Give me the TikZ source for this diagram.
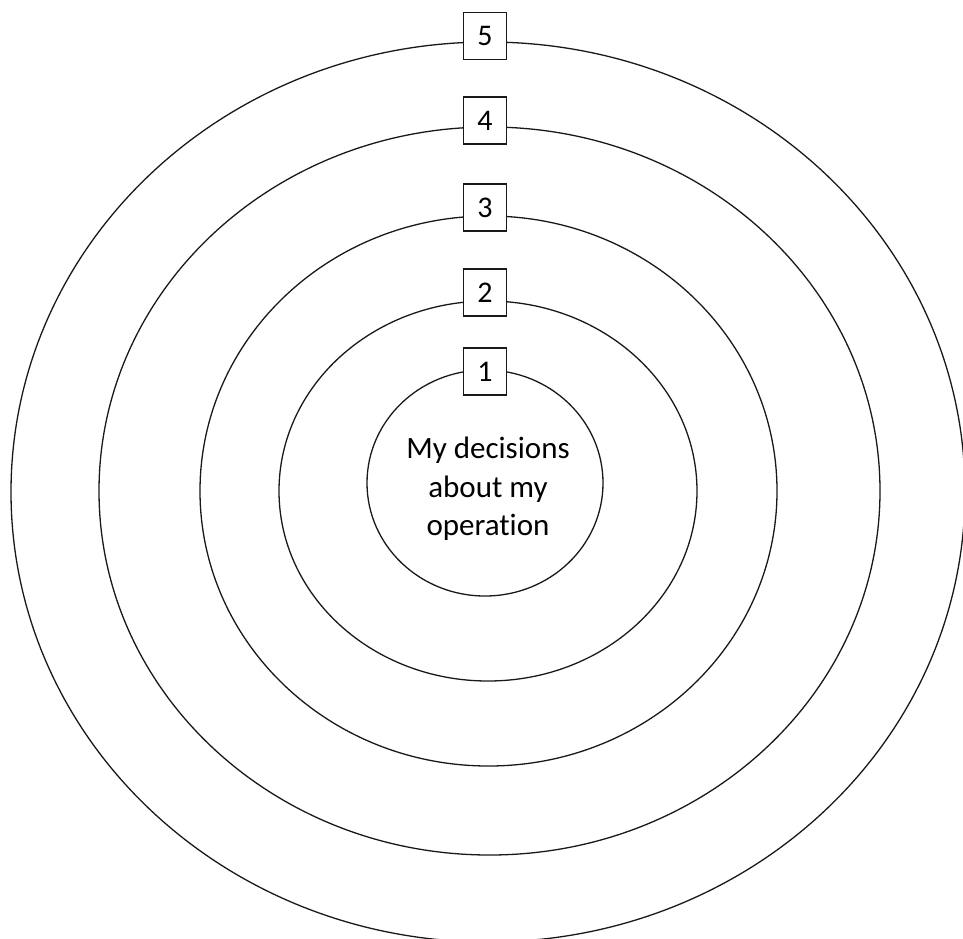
\documentclass[tikz,border=0pt]{standalone}
\usepackage{fontspec}
\setmainfont{Carlito}[Ligatures=NoCommon]
\begin{document}
\begin{tikzpicture}[x=1pt,y=-1pt,
  ring/.style={draw=black!90, line width=1.3pt},
  numbox/.style={draw=black!90, fill=white, line width=1.1pt, minimum width=43pt, minimum height=47pt, inner sep=0pt, font=\fontsize{30}{34}\selectfont},
  centertext/.style={align=center, inner sep=0pt, font=\fontsize{31}{38.5}\selectfont}]
\useasboundingbox (0,0) rectangle (963,938);
\clip (0,0) rectangle (963,938);
\draw[ring] (488,492) ellipse [x radius=477pt, y radius=450pt];
\draw[ring] (489.5,491) ellipse [x radius=390.5pt, y radius=364pt];
\draw[ring] (488.5,491) ellipse [x radius=288.5pt, y radius=275pt];
\draw[ring] (488,491) ellipse [x radius=209pt, y radius=190pt];
\draw[ring] (485,483) ellipse [x radius=118pt, y radius=113pt];
\node[numbox] (b5) at (485,36) {5};
\node[numbox] (b4) at (485,120.5) {4};
\node[numbox] (b3) at (485,207.5) {3};
\node[numbox] (b2) at (485,292.5) {2};
\node[numbox] (b1) at (485,371.5) {1};
\node[centertext] (core) at (488,489) {My decisions\\about my\\operation};
\end{tikzpicture}
\end{document}
